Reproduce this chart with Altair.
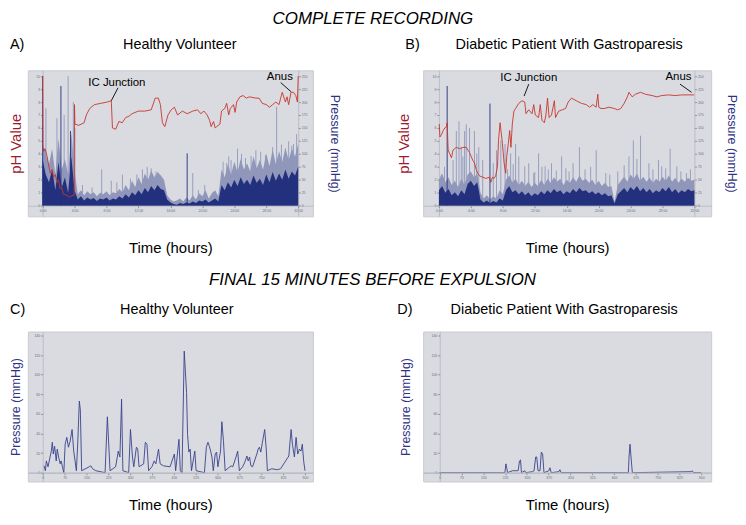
import altair as alt
import pandas as pd

FONT = "Liberation Sans"

# ---------------- data ----------------
# Panels A/B: recording time in hours (samples every 0.4 h)
HOURS = [round(0.4 * i, 1) for i in range(81)]

# A) healthy volunteer - pressure (dense base and lighter envelope)
A_BASE = [90, 60, 45, 70, 30, 85, 35, 55, 25, 95, 30,
          12, 18, 10, 16, 12, 15, 9, 14, 12, 16,
          10, 14, 12, 18, 14, 22, 16, 26, 20, 30,
          22, 34, 26, 38, 30, 40, 32, 30, 12, 6,
          3, 2, 5, 3, 6, 4, 8, 5, 10, 8,
          12, 6, 10, 14, 8, 40, 30, 45, 35, 50,
          38, 55, 42, 50, 40, 58, 44, 52, 40, 60,
          45, 65, 48, 62, 50, 70, 52, 66, 58, 75]
A_ENVELOPE = [120, 100, 80, 110, 60, 130, 70, 90, 60, 140, 70,
              22, 30, 20, 28, 22, 26, 18, 25, 22, 28,
              20, 26, 24, 32, 26, 40, 30, 48, 36, 55,
              42, 62, 50, 68, 55, 65, 58, 50, 20, 12,
              8, 10, 14, 8, 16, 10, 20, 12, 24, 18,
              30, 14, 24, 30, 18, 70, 55, 80, 60, 85,
              65, 90, 70, 82, 66, 95, 72, 88, 70, 100,
              76, 108, 80, 105, 85, 112, 88, 110, 95, 120]
A_PEAK_T = [0.42, 1.15, 1.8, 2.7, 3.2, 3.85, 4.05, 5.0, 6.2, 7.4, 8.6, 9.3, 10.0, 11.0,
            11.8, 12.5, 13.1, 13.6, 14.2, 14.7, 18.8, 19.5, 20.3, 22.6, 23.05, 23.3, 23.6,
            24.4, 24.9, 25.4, 26.1, 26.7, 27.3, 27.9, 28.8, 29.3, 29.9, 30.4, 30.8, 31.2,
            31.4, 31.8]
A_PEAK_P = [188, 101, 169, 175, 250, 200, 150, 40, 35, 70, 48, 45, 60, 52,
            60, 70, 75, 72, 66, 58, 63, 30, 40, 85, 82, 95, 88,
            110, 100, 92, 96, 107, 104, 98, 113, 191, 118, 110, 124, 115,
            119, 138]
A_BASE_PEAK_T = [0.02, 2.3, 3.5, 18.1]
A_BASE_PEAK_P = [250, 231, 144, 101]
A_PH_T = [0, 0.05, 0.16, 0.3, 0.57, 0.8, 0.98, 1.2, 1.39, 1.6, 1.8, 2.0, 2.2, 2.4, 2.6,
          3.0, 3.4, 3.8, 3.96, 4.0, 4.05, 4.5, 4.87, 5.2, 5.48, 5.9, 6.5, 7.3, 8.1, 8.6,
          8.75, 9.15, 9.56, 9.97, 10.4, 10.8, 11.2, 12.0, 12.8, 13.6, 14.1, 14.5, 14.75,
          15.0, 15.3, 15.7, 16.1,
          16.5, 16.9, 17.5, 18.1, 18.8, 19.4, 19.8, 20.2, 20.6, 20.9, 21.1, 21.4, 21.6,
          21.8, 22.2, 22.4, 22.8, 23.05, 23.3, 23.5, 23.9, 24.1, 24.3, 24.7, 25.1, 25.5,
          25.9, 26.7, 27.1, 27.5, 28.0, 28.4, 28.8, 29.2, 29.6, 29.8, 30.0, 30.4, 30.6,
          30.8, 31.1, 31.4, 31.7, 31.9, 32.0]
A_PH = [10.0, 4.5, 4.2, 4.4, 3.8, 3.0, 2.5, 2.8, 2.2, 2.4, 1.8, 2.0, 1.3, 1.4, 0.9,
        0.8, 0.67, 0.8, 0.8, 7.8, 6.3, 6.2, 6.3, 6.4, 7.0, 7.5, 7.8, 7.9, 8.0, 8.1,
        6.0, 5.9, 6.5, 6.4, 6.8, 6.9, 7.1, 7.3, 7.3, 7.4, 8.3, 8.3, 7.8,
        6.4, 6.1, 7.0, 7.4,
        7.6, 7.0, 7.3, 7.1, 7.3, 7.4, 7.1, 7.3, 7.0, 6.6, 6.1, 6.5, 6.0,
        6.1, 6.3, 7.3, 7.5, 7.9, 7.0, 7.5, 7.8, 7.2, 8.0, 8.4, 8.5, 8.3,
        8.4, 8.3, 8.3, 7.9, 7.8, 7.6, 7.8, 8.0, 7.8, 8.3, 8.75, 8.0, 8.4,
        7.8, 8.75, 8.75, 8.5, 8.0, 10.0]

# B) diabetic patient with gastroparesis
B_BASE = [30, 38, 25, 32, 20, 26, 18, 30, 22, 42, 48,
          38, 45, 12, 6, 10, 5, 9, 6, 14, 10,
          30, 38, 26, 30, 22, 28, 20, 26, 18, 24,
          20, 28, 22, 30, 24, 32, 26, 30, 22, 28,
          24, 32, 26, 34, 28, 30, 24, 28, 22, 26,
          20, 24, 18, 20, 4, 22, 28, 34, 26, 36,
          30, 38, 28, 34, 26, 32, 24, 30, 26, 34,
          28, 36, 26, 32, 24, 30, 26, 32, 28, 30]
B_ENVELOPE = [50, 62, 45, 55, 40, 48, 36, 52, 40, 60, 66,
              55, 62, 25, 14, 20, 12, 18, 14, 30, 22,
              50, 58, 45, 52, 40, 48, 38, 46, 36, 44,
              38, 50, 40, 52, 44, 55, 46, 52, 40, 50,
              44, 55, 46, 58, 48, 52, 44, 50, 40, 48,
              38, 44, 36, 38, 8, 40, 48, 56, 46, 60,
              52, 62, 48, 56, 46, 54, 44, 52, 46, 56,
              48, 58, 46, 54, 44, 52, 46, 54, 48, 50]
B_PEAK_T = [0.3, 0.7, 1.77, 2.18, 2.51, 2.8, 3.0, 3.21, 3.42, 3.83, 4.45, 4.74, 4.99, 5.48,
            6.8, 7.21, 7.75, 8.28, 8.6, 8.98, 9.3, 9.6, 10.0, 10.75, 11.25, 11.87, 12.0,
            12.48, 12.9, 13.3, 13.7, 14.1, 14.7, 15.37, 15.9, 16.3, 16.8, 17.6, 18.3, 19.0,
            19.7, 20.9, 21.4, 22.4, 23.2, 23.8, 24.35, 24.8, 25.25, 26.3, 26.8, 27.5, 27.9,
            28.4, 28.96, 29.8, 30.3, 31.0, 31.5]
B_PEAK_P = [60, 75, 88, 144, 163, 113, 95, 144, 157, 150, 144, 101, 113, 88,
            82, 107, 126, 119, 70, 101, 80, 119, 95, 76, 82, 63, 65,
            101, 75, 76, 70, 82, 68, 95, 72, 66, 82, 113, 70, 75,
            107, 63, 60, 66, 78, 95, 126, 90, 135, 82, 70, 88, 76,
            72, 110, 76, 66, 63, 70]
B_BASE_PEAK_T = [1.03, 6.39]
B_BASE_PEAK_P = [231, 197]
B_PH_T = [0.04, 0.12, 0.33, 0.54, 0.74, 0.95, 1.03, 1.15, 1.36, 1.57, 1.77, 1.98, 2.18,
          2.6, 3.0, 3.42, 3.83, 4.24, 4.45, 4.66, 4.86, 5.07, 5.48, 5.89, 6.3, 6.5, 6.7,
          6.9, 7.1, 7.33, 7.46, 7.66, 7.95, 8.16, 8.36, 8.49, 8.69, 8.86, 9.02, 9.19,
          9.39, 9.6, 10.0, 10.4, 10.75, 10.9, 11.25, 11.66, 11.87, 12.07, 12.48, 12.69,
          12.9, 13.2, 13.4, 13.6, 13.8, 14.1, 14.46, 14.6, 15.0, 15.45, 15.86,
          16.19, 16.6, 17.2, 17.84, 18.46, 18.87, 19.28, 19.69, 19.9, 20.02, 20.3, 20.7,
          21.3, 21.96, 22.37, 22.78, 23.2, 23.6, 23.8, 24.2, 24.6, 25.26, 25.87, 26.7,
          27.3, 27.9, 28.76, 29.58, 30.4, 31.2, 31.97]
B_PH = [6.3, 5.3, 5.5, 5.8, 6.0, 6.1, 6.4, 4.3, 4.0, 3.7, 4.3, 4.4, 4.5,
        4.4, 4.5, 4.5, 4.1, 3.5, 3.3, 2.8, 2.5, 2.3, 2.2, 2.1, 2.2, 1.8, 2.2,
        2.1, 2.3, 3.0, 5.0, 6.4, 4.8, 3.3, 2.5, 3.8, 4.8, 5.8, 4.5, 6.3,
        7.3, 7.5, 7.9, 8.1, 8.0, 7.1, 7.4, 7.1, 7.8, 7.0, 6.8, 7.8,
        6.6, 6.4, 7.0, 8.3, 6.8, 7.0, 8.1, 6.8, 7.3, 7.4, 7.5,
        8.0, 8.3, 8.1, 7.9, 7.8, 7.6, 7.8, 7.6, 8.6, 7.6, 7.5, 7.5,
        7.6, 7.5, 7.4, 7.5, 7.9, 8.4, 8.75, 8.4, 8.6, 8.75, 8.6, 8.5,
        8.4, 8.5, 8.55, 8.5, 8.55, 8.55, 8.55]

# Annotations (hours, pH) and their leader lines
A_NOTES = ["IC Junction", "Anus"]
A_NOTE_T = [9.3, 29.7]
A_NOTE_PH = [9.5, 9.9]
A_LEAD_T = [9.45, 29.8]
A_LEAD_PH = [9.1, 9.5]
A_LEAD_T2 = [8.6, 31.1]
A_LEAD_PH2 = [8.1, 8.8]
B_NOTES = ["IC Junction", "Anus"]
B_NOTE_T = [11.25, 30.0]
B_NOTE_PH = [9.87, 9.9]
B_LEAD_T = [11.25, 30.2]
B_LEAD_PH = [9.38, 9.38]
B_LEAD_T2 = [10.67, 31.64]
B_LEAD_PH2 = [8.46, 8.75]

# C) / D) final 15 minutes: time in seconds, pressure in mmHg
C_SEC = [4.6, 9.1, 12.5, 18.1, 23.8, 29.5, 32.9, 36.3, 40.8, 46.4,
         49.8, 54.4, 60.0, 63.4, 69.1, 72.5, 77.0, 82.7, 88.3, 94.0,
         100.8, 106.4, 111.0, 115.5, 120.0, 125.7, 129.1, 133.6, 159.6, 165.3,
         171.0, 182.3, 214.0, 221.9, 231.0, 250.2, 259.3, 264.9, 270.6, 275.1,
         295.0, 301.1, 307.9, 312.5, 321.5, 326.0, 330.6, 346.4, 352.1, 357.7,
         363.4, 374.7, 382.6, 388.3, 397.4, 403.0, 414.3, 437.0, 451.7, 456.2,
         467.5, 472.1, 478.0, 485.6, 487.9, 493.6, 497.0, 501.5, 506.0, 510.5,
         521.9, 526.4, 555.0, 561.5, 567.1, 571.7, 576.2, 580.7, 585.3, 592.0,
         596.6, 601.1, 610.2, 614.7, 620.3, 626.0, 646.4, 652.0, 663.4, 669.0,
         674.7, 686.0, 693.9, 700.7, 705.2, 709.8, 714.3, 720.0, 734.7, 739.2,
         743.7, 748.3, 753.9, 761.8, 767.5, 770.9, 785.6, 804.9, 816.2, 844.5,
         852.4, 856.9, 863.7, 869.4, 875.0, 880.7, 886.4, 890.9, 895.4, 900.0]
C_P = [7, 2, 12, 6, 14, 22, 31, 19, 27, 12,
       24, 16, 9, 12, 4, 0, 29, 36, 26, 32,
       44, 22, 12, 2, 29, 73, 64, 2, 6, 7,
       4, 2, 0, 57, 2, 6, 22, 16, 75, 2,
       0, 44, 16, 6, 26, 24, 6, 9, 31, 29,
       2, 6, 12, 9, 24, 9, 7, 6, 19, 2,
       34, 2, 0, 124, 112, 82, 39, 21, 24, 2,
       22, 2, 0, 26, 31, 27, 22, 16, 2, 19,
       21, 6, 22, 52, 32, 2, 7, 6, 16, 22,
       2, 6, 11, 17, 12, 16, 7, 6, 19, 24,
       26, 21, 31, 44, 22, 2, 4, 3, 4, 17,
       44, 29, 16, 36, 19, 24, 22, 29, 12, 2]
D_SEC = [0, 224.3, 227.7, 231.2, 233.4, 250.5, 269.9, 274.4, 277.9, 281.3,
         292.7, 296.1, 318.9, 324.6, 330.2, 333.7, 338.2, 345.0, 349.6, 354.1,
         358.7, 375.8, 379.2, 383.8, 410.0, 413.4, 418.0, 649.2, 651.5, 654.9,
         658.3, 662.8, 865.6, 869.0, 873.5, 900]
D_P = [0, 0, 9, 4, 0, 2, 2, 12, 13, 0,
       2, 0, 1, 2, 16, 16, 2, 2, 21, 19,
       0, 2, 5, 0, 1, 3, 0, 0, 16, 29,
       16, 0, 1, 2, 0, 0]

# ---------------- styling ----------------
RED = "#c9342c"
RED_TEXT = "#9b1b30"
NAVY = "#22307e"
NAVY_TEXT = "#2f3283"
LIGHT = "#9097ba"
TRACE = "#38418a"
BG = "#d9dbe0"

TINY = dict(labelFontSize=3.5, labelColor="#6b6d78", tickSize=2, tickColor="#8a8c96",
            domainColor="#a9abb4", domainWidth=0.6, grid=False, labelPadding=1,
            titleFont=FONT, titleFontWeight="normal")


def framed(lo, hi, pad_lo, pad_hi):
    span = (hi - lo) / (1 - pad_lo - pad_hi)
    return [lo - pad_lo * span, hi + pad_hi * span]


def text_layer(label, dx, dy, size, align="left", style="normal"):
    return alt.Chart(pd.DataFrame({"lab": [label]})).mark_text(
        align=align, baseline="middle", fontSize=size, font=FONT, color="black",
        fontStyle=style
    ).encode(x=alt.value(dx), y=alt.value(dy), text="lab:N")


def full_panel(title, title_x, letter, width, height, pads, ph_pad, base, env, peak_t, peak_p,
               bpeak_t, bpeak_p, ph_t, ph_v, notes, note_t, note_ph, l_t, l_ph, l_t2, l_ph2):
    lf, rf, tf, bf = pads
    xdom = framed(0, 32, lf, rf)
    pdom = framed(0, 250, bf, tf)
    hdom = framed(0, 10, bf, tf)
    xax = alt.Axis(orient="bottom", offset=-bf * height, values=list(range(0, 33, 4)),
                   labelExpr="datum.value + ':00'", title="Time (hours)", titleFontSize=15,
                   titlePadding=29, titleColor="black", zindex=1, **TINY)
    X = alt.X("t:Q", scale=alt.Scale(domain=xdom, nice=False, zero=False), axis=xax)
    pscale = alt.Scale(domain=pdom, nice=False, zero=False)
    pax = alt.Axis(orient="right", offset=-rf * width, values=list(range(0, 251, 25)),
                   title="Pressure (mmHg)", titleFontSize=12.5, titleColor=NAVY_TEXT,
                   titlePadding=21, **TINY)
    P = alt.Y("p:Q", scale=pscale, axis=pax)
    hax = alt.Axis(orient="left", offset=-lf * width, values=list(range(0, 11)),
                   title="pH Value", titleFontSize=15, titleColor=RED_TEXT,
                   titlePadding=ph_pad, **TINY)
    H = alt.Y("ph:Q", scale=alt.Scale(domain=hdom, nice=False, zero=False), axis=hax)

    trace = pd.DataFrame({"t": HOURS, "base": base, "env": env})
    env_l = alt.Chart(trace).mark_area(color=LIGHT, interpolate="linear").encode(
        x=X, y=alt.Y("env:Q", scale=pscale, axis=pax), y2=alt.datum(0))
    peaks = alt.Chart(pd.DataFrame({"t": peak_t, "p": peak_p})).mark_rule(
        color=LIGHT, strokeWidth=0.9).encode(x=X, y=P, y2=alt.datum(0))
    base_l = alt.Chart(trace).mark_area(color=NAVY, interpolate="linear").encode(
        x=X, y=alt.Y("base:Q", scale=pscale, axis=pax), y2=alt.datum(0))
    bpeaks = alt.Chart(pd.DataFrame({"t": bpeak_t, "p": bpeak_p})).mark_rule(
        color=NAVY, strokeWidth=0.9).encode(x=X, y=P, y2=alt.datum(0))
    pressure = alt.layer(env_l, peaks, base_l, bpeaks)

    phl = alt.Chart(pd.DataFrame({"t": ph_t, "ph": ph_v})).mark_line(
        color=RED, strokeWidth=0.9).encode(x=X, y=H)
    lead = alt.Chart(pd.DataFrame({"t": l_t, "ph": l_ph, "t2": l_t2, "ph2": l_ph2})).mark_rule(
        color="black", strokeWidth=0.9).encode(x=X, y=H, x2="t2:Q", y2="ph2:Q")
    note = alt.Chart(pd.DataFrame({"t": note_t, "ph": note_ph, "lab": notes})).mark_text(
        fontSize=11.5, font=FONT, color="black", baseline="middle").encode(x=X, y=H, text="lab:N")
    ph_group = alt.layer(phl, lead, note,
                         text_layer(letter, -18, -25, 14.5),
                         text_layer(title, title_x, -25, 14.5, align="center"))

    return alt.layer(pressure, ph_group).resolve_scale(y="independent").properties(
        width=width, height=height)


def final_panel(title, title_x, letter, letter_x, width, height, pads, sec, pres,
                ytitle_pad, extra=None):
    lf, rf, tf, bf = pads
    xdom = framed(0, 900, lf, rf)
    ydom = framed(0, 138, bf, tf)
    tiny = dict(TINY)
    tiny.update(domainWidth=1.4, domainColor="#b3b5bd")
    xax = alt.Axis(orient="bottom", offset=-bf * height, values=list(range(0, 901, 75)),
                   title="Time (hours)", titleFontSize=15, titlePadding=19,
                   titleColor="black", zindex=1, **tiny)
    yax = alt.Axis(orient="left", offset=-lf * width, values=list(range(0, 141, 20)),
                   title="Pressure (mmHg)", titleFontSize=12.5, titleColor=NAVY_TEXT,
                   titlePadding=ytitle_pad, **TINY)
    line = alt.Chart(pd.DataFrame({"s": sec, "p": pres})).mark_line(
        color=TRACE, strokeWidth=0.9).encode(
        x=alt.X("s:Q", scale=alt.Scale(domain=xdom, nice=False, zero=False), axis=xax),
        y=alt.Y("p:Q", scale=alt.Scale(domain=ydom, nice=False, zero=False), axis=yax))
    layers = [line, text_layer(letter, letter_x, -22, 14.5),
              text_layer(title, title_x, -22, 14.5, align="center")]
    if extra is not None:
        layers.append(extra)
    return alt.layer(*layers).properties(width=width, height=height)


A = full_panel("Healthy Volunteer", 153, "A)", 287, 147, (15 / 291, 15 / 291, 6 / 151, 11 / 151), 12,
               A_BASE, A_ENVELOPE, A_PEAK_T, A_PEAK_P, A_BASE_PEAK_T, A_BASE_PEAK_P, A_PH_T, A_PH,
               A_NOTES, A_NOTE_T, A_NOTE_PH, A_LEAD_T, A_LEAD_PH, A_LEAD_T2, A_LEAD_PH2)
B = full_panel("Diabetic Patient With Gastroparesis", 147, "B)", 290, 147,
               (16 / 292, 17 / 292, 6 / 151, 11 / 151), 21,
               B_BASE, B_ENVELOPE, B_PEAK_T, B_PEAK_P, B_BASE_PEAK_T, B_BASE_PEAK_P, B_PH_T, B_PH,
               B_NOTES, B_NOTE_T, B_NOTE_PH, B_LEAD_T, B_LEAD_PH, B_LEAD_T2, B_LEAD_PH2)
heading = text_layer("FINAL 15 MINUTES BEFORE EXPULSION", 347, -52, 17, align="center",
                     style="italic")
C = final_panel("Healthy Volunteer", 150, "C)", -18, 287, 151,
                (15 / 288, 8 / 288, 6 / 153, 9 / 153), C_SEC, C_P, 12, extra=heading)
D = final_panel("Diabetic Patient With Gastroparesis", 142, "D)", -26, 290, 151,
                (16.7 / 290, 10 / 290, 6 / 153, 9 / 153), D_SEC, D_P, 19)

chart = alt.concat(
    A, B, C, D, columns=2, spacing={"row": 116, "column": 111}, bounds="flush",
    title=alt.TitleParams("COMPLETE RECORDING", fontSize=17, font=FONT, fontStyle="italic",
                          fontWeight="normal", anchor="middle", offset=9)
).properties(
    padding={"left": 0, "right": 0, "top": 0, "bottom": 0}, background="white"
).configure_view(fill=BG, stroke="#c9cbd1").configure_title(font=FONT, color="black")

chart.save("out.html", embed_options={"renderer": "svg", "actions": False})
